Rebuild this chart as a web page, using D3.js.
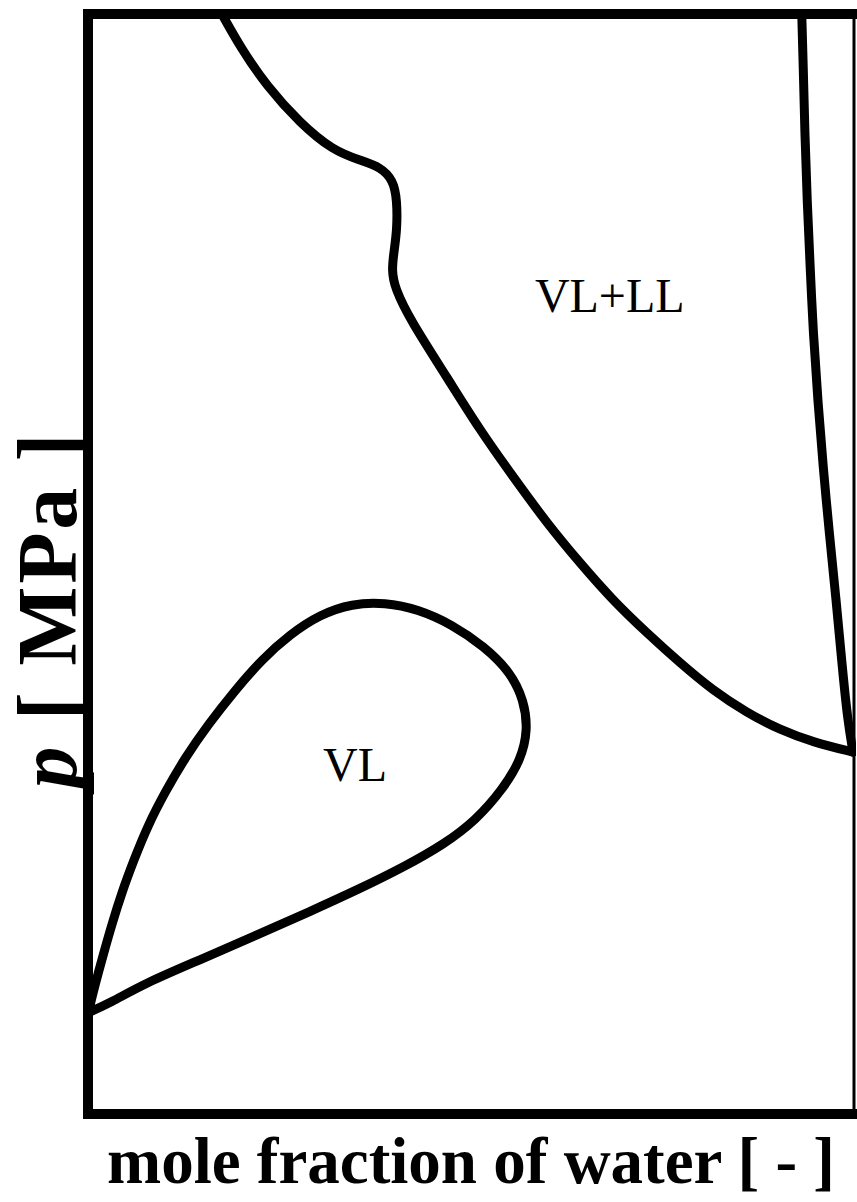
<!DOCTYPE html>
<html>
<head>
<meta charset="utf-8">
<script src="https://cdn.jsdelivr.net/npm/d3@7"></script>
<style>
  html, body { margin: 0; padding: 0; background: #fff; }
  svg { display: block; }
  text { font-family: "Liberation Serif", "Times New Roman", serif; fill: #000; }
</style>
</head>
<body>
<svg id="chart" width="857" height="1202"></svg>
<script>
// Phase boundaries of the water system (x: mole fraction of water, y: relative pressure)

// Upper boundary of the VL+LL region
const vlllUpperX = [0.175, 0.199, 0.234, 0.277, 0.320, 0.356, 0.382, 0.399, 0.404, 0.404, 0.400, 0.397, 0.401, 0.421, 0.469, 0.512, 0.556, 0.600, 0.643, 0.686, 0.731, 0.774, 0.817, 0.861, 0.905, 0.948, 1.000];
const vlllUpperY = [1.000, 0.970, 0.934, 0.901, 0.876, 0.867, 0.861, 0.849, 0.831, 0.804, 0.784, 0.767, 0.751, 0.722, 0.670, 0.622, 0.579, 0.537, 0.501, 0.467, 0.437, 0.410, 0.385, 0.365, 0.349, 0.338, 0.329];

// Water-rich liquid boundary
const waterRichX = [0.933, 0.935, 0.937, 0.940, 0.944, 0.948, 0.954, 0.961, 0.969, 0.978, 0.986, 0.993, 1.000];
const waterRichY = [1.000, 0.952, 0.892, 0.831, 0.770, 0.710, 0.649, 0.588, 0.528, 0.467, 0.406, 0.358, 0.329];

// Closed VL loop (upper branch, then lower branch back to the pure-component point)
const vlLoopX = [0.001, 0.009, 0.020, 0.031, 0.044, 0.060, 0.078, 0.101, 0.127, 0.157, 0.192, 0.227, 0.264, 0.303, 0.345, 0.388, 0.431, 0.476, 0.518, 0.552, 0.570, 0.575, 0.566, 0.542, 0.507, 0.465, 0.414, 0.356, 0.290, 0.218, 0.146, 0.075, 0.029, 0.000];
const vlLoopY = [0.094, 0.117, 0.145, 0.172, 0.201, 0.231, 0.262, 0.293, 0.324, 0.354, 0.385, 0.413, 0.436, 0.454, 0.464, 0.465, 0.459, 0.445, 0.425, 0.402, 0.376, 0.349, 0.322, 0.295, 0.267, 0.245, 0.225, 0.205, 0.184, 0.162, 0.140, 0.119, 0.101, 0.092];

// Region labels
const regionNames = ["VL+LL", "VL"];
const regionX = [0.682, 0.349];
const regionY = [0.729, 0.303];

const xTitle = "mole fraction of water [ - ]";
const yTitleVar = "p";
const yTitleUnit = " [ MPa ]";

const svg = d3.select("#chart");
const plotLeft = 88, plotRight = 853, plotTop = 14, plotBottom = 1114;

const x = d3.scaleLinear().domain([0, 1]).range([plotLeft, plotRight]);
const y = d3.scaleLinear().domain([0, 1]).range([plotBottom, plotTop]);

svg.append("defs").append("clipPath").attr("id", "plotClip")
  .append("rect")
  .attr("x", plotLeft).attr("y", plotTop)
  .attr("width", plotRight - plotLeft + 3).attr("height", plotBottom - plotTop);

const line = d3.line()
  .x(d => x(d[0]))
  .y(d => y(d[1]))
  .curve(d3.curveBasis);

const curves = [
  d3.zip(vlllUpperX, vlllUpperY),
  d3.zip(waterRichX, waterRichY),
  d3.zip(vlLoopX, vlLoopY)
];

svg.append("g").attr("clip-path", "url(#plotClip)")
  .selectAll("path")
  .data(curves)
  .join("path")
  .attr("d", line)
  .attr("fill", "none")
  .attr("stroke", "#000")
  .attr("stroke-width", 9)
  .attr("stroke-linejoin", "round")
  .attr("stroke-linecap", "round");

// Frame
svg.append("path")
  .attr("d", `M${plotRight + 4},${plotTop} H${plotLeft} V${plotBottom} H${plotRight + 4}`)
  .attr("fill", "none")
  .attr("stroke", "#000")
  .attr("stroke-width", 10);
svg.append("line")
  .attr("x1", plotRight + 1).attr("x2", plotRight + 1)
  .attr("y1", plotTop).attr("y2", plotBottom)
  .attr("stroke", "#000")
  .attr("stroke-width", 3);

// Region labels
svg.append("g")
  .selectAll("text")
  .data(regionNames)
  .join("text")
  .attr("x", (d, i) => x(regionX[i]))
  .attr("y", (d, i) => y(regionY[i]))
  .attr("text-anchor", "middle")
  .attr("font-size", 48)
  .text(d => d);

// Axis titles
svg.append("text")
  .attr("x", 471)
  .attr("y", 1183)
  .attr("text-anchor", "middle")
  .attr("font-size", 65)
  .attr("font-weight", "bold")
  .text(xTitle);

const yt = svg.append("text")
  .attr("transform", "translate(76,611) rotate(-90)")
  .attr("text-anchor", "middle")
  .attr("font-size", 84)
  .attr("font-weight", "bold")
  .attr("textLength", 355)
  .attr("lengthAdjust", "spacing");
yt.append("tspan").attr("font-style", "italic").text(yTitleVar);
yt.append("tspan").attr("xml:space", "preserve").text(yTitleUnit);
</script>
</body>
</html>
